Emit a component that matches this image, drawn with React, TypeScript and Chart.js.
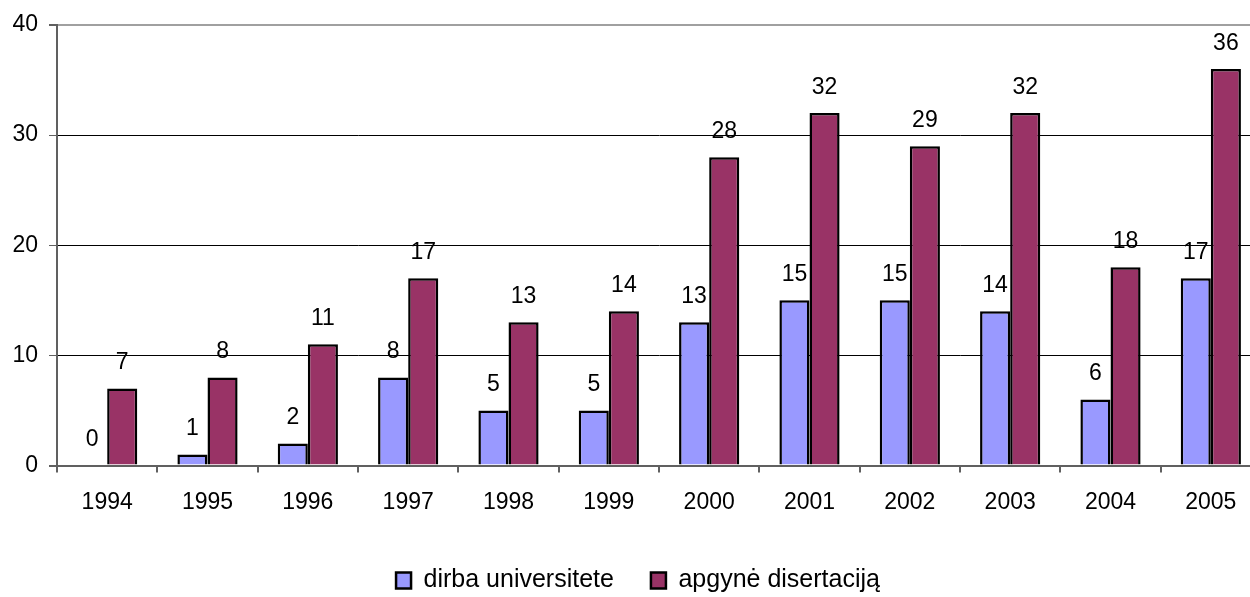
import React, { useEffect, useRef } from "react";
import { Chart, registerables } from "chart.js";

Chart.register(...registerables);

const categories = ["1994", "1995", "1996", "1997", "1998", "1999", "2000", "2001", "2002", "2003", "2004", "2005"];
const dirbaUniversitete = [0, 1, 2, 8, 5, 5, 13, 15, 15, 14, 6, 17];
const apgyneDisertacija = [7, 8, 11, 17, 13, 14, 28, 32, 29, 32, 18, 36];
const seriesNames = ["dirba universitete", "apgynė disertaciją"];
const yMin = 0;
const yMax = 40;
const yStep = 10;

const FONT = "'Liberation Sans', Arial, Helvetica, sans-serif";

const valueLabels = {
  id: "valueLabels",
  afterDatasetsDraw(chart: any) {
    const ctx = chart.ctx;
    ctx.save();
    ctx.font = `23px ${FONT}`;
    ctx.fillStyle = "#000";
    ctx.textAlign = "center";
    ctx.textBaseline = "alphabetic";
    chart.data.datasets.forEach((ds: any, di: number) => {
      const meta = chart.getDatasetMeta(di);
      meta.data.forEach((el: any, i: number) => {
        ctx.fillText(String(ds.data[i]), el.x, el.y - 19.5);
      });
    });
    ctx.restore();
  },
};

export default function App() {
  const ref = useRef<HTMLCanvasElement | null>(null);
  useEffect(() => {
    if (!ref.current) return;
    const chart = new Chart(ref.current, {
      type: "bar",
      data: {
        labels: categories,
        datasets: [
          {
            label: seriesNames[0],
            data: dirbaUniversitete,
            backgroundColor: "#9999FF",
            borderColor: "#000",
            borderWidth: 2.5,
          },
          {
            label: seriesNames[1],
            data: apgyneDisertacija,
            backgroundColor: "#993366",
            borderColor: "#000",
            borderWidth: 2.5,
          },
        ],
      },
      options: {
        responsive: true,
        maintainAspectRatio: false,
        animation: false,
        layout: { padding: { top: 25, left: 0, right: 16, bottom: -6 } },
        datasets: { bar: { categoryPercentage: 0.6, barPercentage: 1 } },
        plugins: {
          tooltip: { enabled: false },
          legend: {
            position: "bottom",
            labels: {
              boxWidth: 15,
              boxHeight: 16,
              padding: 37,
              color: "#000",
              font: { family: FONT, size: 25 },
            },
          },
        },
        scales: {
          x: {
            afterFit: (s: any) => {
              s.height = 65.5;
            },
            grid: {
              offset: true,
              drawOnChartArea: false,
              drawTicks: true,
              tickLength: 7,
              tickColor: "#606060",
              lineWidth: 2,
            },
            border: { color: "#606060", width: 2 },
            ticks: { color: "#000", font: { family: FONT, size: 23 }, padding: 16, maxRotation: 0 },
          },
          y: {
            min: yMin,
            max: yMax,
            afterFit: (s: any) => {
              s.width = 57;
            },
            ticks: { stepSize: yStep, color: "#000", font: { family: FONT, size: 23 }, padding: 11 },
            grid: {
              color: (c: any) => (c.tick && c.tick.value === yMax ? "#a0a0a0" : c.tick && c.tick.value === 0 ? "#606060" : "#000"),
              lineWidth: (c: any) => (c.tick && (c.tick.value === yMax || c.tick.value === 0) ? 2 : 1),
              tickColor: "#606060",
              tickLength: 8,
            },
            border: { color: "#606060", width: 2 },
          },
          yRight: {
            type: "linear",
            position: "right",
            min: yMin,
            max: yMax,
            afterFit: (s: any) => {
              s.width = 15;
            },
            ticks: { display: false },
            grid: { drawOnChartArea: false, drawTicks: false },
            border: { display: false },
          },
        },
      },
      plugins: [valueLabels],
    });
    return () => chart.destroy();
  }, []);
  return (
    <div style={{ position: "fixed", left: 0, top: 0, width: 1250, height: 597, overflow: "hidden", background: "#fff" }}>
      <div style={{ position: "relative", width: 1292, height: 597 }}>
        <canvas ref={ref} />
      </div>
    </div>
  );
}
